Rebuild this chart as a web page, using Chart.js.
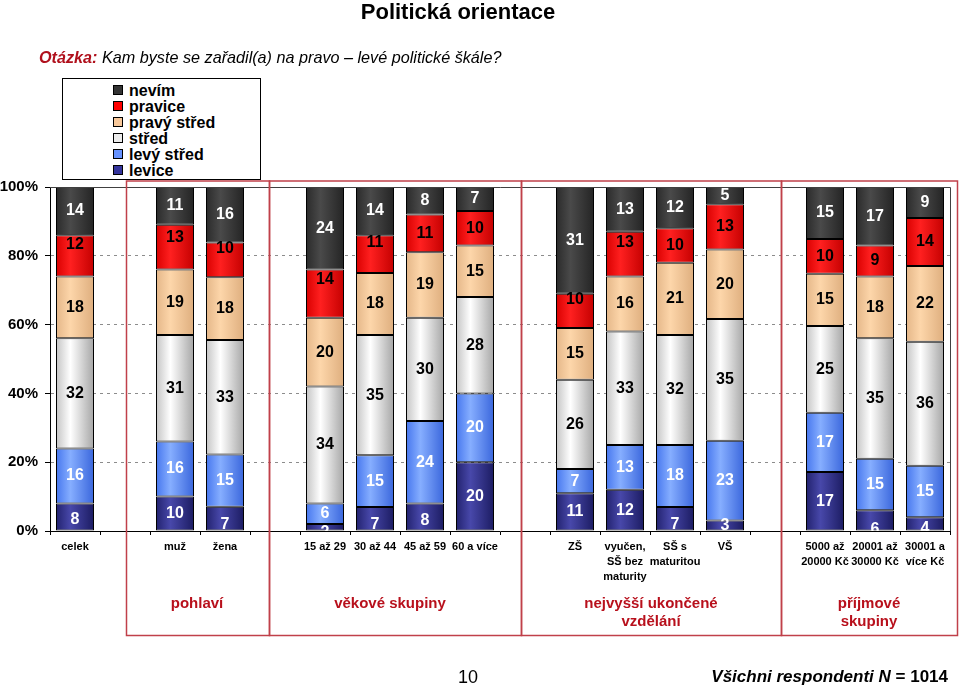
<!DOCTYPE html>
<html lang="cs">
<head>
<meta charset="utf-8">
<title>Politická orientace</title>
<script src="https://cdn.jsdelivr.net/npm/chart.js@4.4.0/dist/chart.umd.min.js"></script>
<style>
  html, body { margin: 0; padding: 0; background: #fff; }
  body {
    width: 960px; height: 688px; position: relative; overflow: hidden;
    font-family: "Liberation Sans", Arial, sans-serif; color: #000;
  }
  #chartBox { position: absolute; left: 0; top: 0; width: 960px; height: 688px; }
  .title {
    position: absolute; left: 0; top: 0; width: 916px; text-align: center;
    font-size: 22px; font-weight: bold; line-height: 24px;
  }
  .question {
    position: absolute; left: 39px; top: 48px; font-size: 16.2px; line-height: 18px;
    font-style: italic; white-space: nowrap;
  }
  .question b { color: #b0101c; }
  #legend {
    position: absolute; left: 62px; top: 78px; width: 199px; height: 102px;
    border: 1px solid #000; background: #fff; box-sizing: border-box;
    padding: 4px 0 0 50px;
  }
  #legend div { font-size: 16px; font-weight: bold; line-height: 16px; height: 16px; white-space: nowrap; }
  #legend span {
    display: inline-block; width: 8px; height: 8px; border: 1px solid #000;
    margin-right: 6px; vertical-align: 1px;
  }
  .page { position: absolute; left: 458px; top: 666px; font-size: 18px; line-height: 22px; }
  .sample {
    position: absolute; right: 12px; top: 666px; font-size: 17px; line-height: 22px;
    font-weight: bold; white-space: nowrap;
  }
</style>
</head>
<body>
<div id="chartBox"><canvas id="chart" width="960" height="688"></canvas></div>
<div class="title">Politická orientace</div>
<div class="question"><b>Otázka:</b> Kam byste se zařadil(a) na pravo – levé politické škále?</div>
<div id="legend"></div>
<div class="page">10</div>
<div class="sample"><i>Všichni respondenti N</i> = 1014</div>
<script>
// kategorie po skupinách (mezi skupinami se vkládá prázdný sloupec)
const categories = [
  "celek",
  "muž", "žena",
  "15 až 29", "30 až 44", "45 až 59", "60 a více",
  "ZŠ", ["vyučen,", "SŠ bez", "maturity"], ["SŠ s", "maturitou"], "VŠ",
  ["5000 až", "20000 Kč"], ["20001 až", "30000 Kč"], ["30001 a", "více Kč"],
];
const groupSizes = [1, 2, 4, 4, 3];
const groupNames = [null, ["pohlaví"], ["věkové skupiny"], ["nejvyšší ukončené", "vzdělání"], ["příjmové", "skupiny"]];

// hodnoty v % (odspodu nahoru)
const levice     = [8, 10, 7, 2, 7, 8, 20, 11, 12, 7, 3, 17, 6, 4];
const levyStred  = [16, 16, 15, 6, 15, 24, 20, 7, 13, 18, 23, 17, 15, 15];
const stred      = [32, 31, 33, 34, 35, 30, 28, 26, 33, 32, 35, 25, 35, 36];
const pravyStred = [18, 19, 18, 20, 18, 19, 15, 15, 16, 21, 20, 15, 18, 22];
const pravice    = [12, 13, 10, 14, 11, 11, 10, 10, 13, 10, 13, 10, 9, 14];
const nevim      = [14, 11, 16, 24, 14, 8, 7, 31, 13, 12, 5, 15, 17, 9];

const yTicks = [0, 20, 40, 60, 80, 100];

const series = [
  { label: "levice", values: levice, fill: ["#22226e", "#4848aa", "#1c1c62"], swatch: "#34349c", text: "#fff" },
  { label: "levý střed", values: levyStred, fill: ["#4676ee", "#86aeff", "#3a66dc"], swatch: "#6692ff", text: "#fff" },
  { label: "střed", values: stred, fill: ["#c4c4c4", "#ffffff", "#a6a6a6"], swatch: "#ececec", text: "#000" },
  { label: "pravý střed", values: pravyStred, fill: ["#e4b688", "#fdd6aa", "#deae7e"], swatch: "#f8c89a", text: "#000" },
  { label: "pravice", values: pravice, fill: ["#d80000", "#ff2020", "#c40000"], swatch: "#ff0000", text: "#000" },
  { label: "nevím", values: nevim, fill: ["#2a2a2a", "#4a4a4a", "#242424"], swatch: "#333333", text: "#fff" },
];

// posuny popisků (px) tam, kde je originál nemá uprostřed segmentu
const labelNudge = {
  "pravice": { "celek": -11, "muž": -10, "žena": -11, "15 až 29": -14, "30 až 44": -11, "ZŠ": -11, "vyučen, SŠ bez maturity": -11 },
  "levice": { "celek": 3, "žena": 6, "15 až 29": 5, "30 až 44": 6, "45 až 59": 4, "SŠ s maturitou": 6, "20001 až 30000 Kč": 9, "30001 a více Kč": 5 },
};

// rámečky skupin: [levý okraj, pravý okraj, střed popisku]
const groupFrames = [null, [126.5, 269.5, 197], [269.5, 521.5, 390], [521.5, 781.5, 651], [781.5, 957.5, 869]];

const FONT = '"Liberation Sans", Arial, sans-serif';

function catKey(c) {
  return Array.isArray(c) ? c.join(" ") : c;
}

// rozložení sloupců: index kategorie nebo -1 pro mezeru
function buildSlots() {
  const slots = [];
  let k = 0;
  groupSizes.forEach((size, g) => {
    for (let i = 0; i < size; i++) slots.push(k++);
    if (g < groupSizes.length - 1) slots.push(-1);
  });
  return slots;
}

const slots = buildSlots();
const totals = categories.map((_, i) => series.reduce((s, d) => s + d.values[i], 0));

function barFill(stops) {
  return (ctx) => {
    const chart = ctx.chart;
    const xs = chart.scales.x;
    if (!xs || !chart.chartArea) return stops[1];
    const x = xs.getPixelForValue(ctx.dataIndex);
    const half = (xs.width / slots.length) * 0.76 / 2;
    const g = chart.ctx.createLinearGradient(x - half, 0, x + half, 0);
    g.addColorStop(0, stops[0]);
    g.addColorStop(0.38, stops[1]);
    g.addColorStop(1, stops[2]);
    return g;
  };
}

const segmentLabels = {
  id: "segmentLabels",
  afterDatasetsDraw(chart) {
    const { ctx, chartArea } = chart;
    ctx.save();
    ctx.beginPath();
    ctx.rect(chartArea.left, chartArea.top, chartArea.right - chartArea.left, chartArea.bottom - chartArea.top);
    ctx.clip();
    ctx.font = "bold 16px " + FONT;
    ctx.textAlign = "center";
    ctx.textBaseline = "middle";
    chart.data.datasets.forEach((ds, di) => {
      const meta = chart.getDatasetMeta(di);
      meta.data.forEach((bar, i) => {
        const k = slots[i];
        if (k < 0) return;
        const nudge = (labelNudge[ds.label] || {})[catKey(categories[k])] || 0;
        ctx.fillStyle = ds.textColor;
        ctx.fillText(String(ds.rawValues[k]), bar.x, (bar.y + bar.base) / 2 + nudge);
      });
    });
    ctx.restore();
  },
};

const frames = {
  id: "frames",
  afterDraw(chart) {
    const { ctx, chartArea } = chart;
    ctx.save();
    // horní a pravý okraj plochy grafu
    ctx.strokeStyle = "#404040";
    ctx.lineWidth = 1;
    ctx.beginPath();
    ctx.moveTo(chartArea.left, chartArea.top + 0.5);
    ctx.lineTo(chartArea.right + 0.5, chartArea.top + 0.5);
    ctx.lineTo(chartArea.right + 0.5, chartArea.bottom);
    ctx.stroke();
    // rámečky skupin
    ctx.strokeStyle = "#c0404a";
    ctx.lineWidth = 1.5;
    ctx.fillStyle = "#b8101c";
    ctx.font = "bold 15px " + FONT;
    ctx.textAlign = "center";
    ctx.textBaseline = "middle";
    groupFrames.forEach((f, g) => {
      if (!f) return;
      ctx.strokeRect(f[0], 181, f[1] - f[0], 635.5 - 181);
      groupNames[g].forEach((line, j) => ctx.fillText(line, f[2], 604 + j * 18));
    });
    ctx.restore();
  },
};

function buildLegend() {
  const box = document.getElementById("legend");
  series.slice().reverse().forEach((s) => {
    const row = document.createElement("div");
    const sw = document.createElement("span");
    sw.style.background = s.swatch;
    row.appendChild(sw);
    row.appendChild(document.createTextNode(s.label));
    box.appendChild(row);
  });
}

function render() {
  const labels = slots.map((k) => (k < 0 ? "" : categories[k]));
  const datasets = series.map((s) => ({
    label: s.label,
    rawValues: s.values,
    textColor: s.text,
    data: slots.map((k) => (k < 0 ? null : (s.values[k] / totals[k]) * 100)),
    backgroundColor: barFill(s.fill),
    borderColor: "#000",
    borderWidth: 1,
    borderSkipped: false,
    barPercentage: 0.76,
    categoryPercentage: 1,
  }));

  new Chart(document.getElementById("chart"), {
    type: "bar",
    data: { labels, datasets },
    plugins: [segmentLabels, frames],
    options: {
      responsive: false,
      animation: false,
      layout: { padding: { top: 187, right: 10, bottom: 97, left: 0 } },
      plugins: { legend: { display: false }, tooltip: { enabled: false } },
      scales: {
        x: {
          stacked: true,
          afterFit: (scale) => { scale.height = 60; },
          grid: { drawOnChartArea: false, drawTicks: true, tickLength: 4, tickColor: "#000", offset: true },
          border: { display: true, color: "#000", width: 1 },
          ticks: {
            color: "#000", padding: 5, autoSkip: false, maxRotation: 0,
            font: { family: FONT, size: 11, weight: "bold", lineHeight: 1.35 },
          },
        },
        y: {
          stacked: true,
          min: 0,
          max: 100,
          afterFit: (scale) => { scale.width = 50; },
          afterBuildTicks: (scale) => { scale.ticks = yTicks.map((v) => ({ value: v })); },
          grid: {
            color: (c) => (c.tick && (c.tick.value === 0 || c.tick.value === 100) ? "rgba(0,0,0,0)" : "#8c8c8c"),
            tickColor: "#000",
            tickLength: 5,
          },
          border: { display: true, color: "#000", width: 1, dash: [3, 4] },
          ticks: {
            color: "#000", padding: 7,
            font: { family: FONT, size: 15, weight: "bold" },
            callback: (v) => v + "%",
          },
        },
      },
    },
  });
}

document.addEventListener("DOMContentLoaded", () => {
  buildLegend();
  render();
});
</script>
</body>
</html>
